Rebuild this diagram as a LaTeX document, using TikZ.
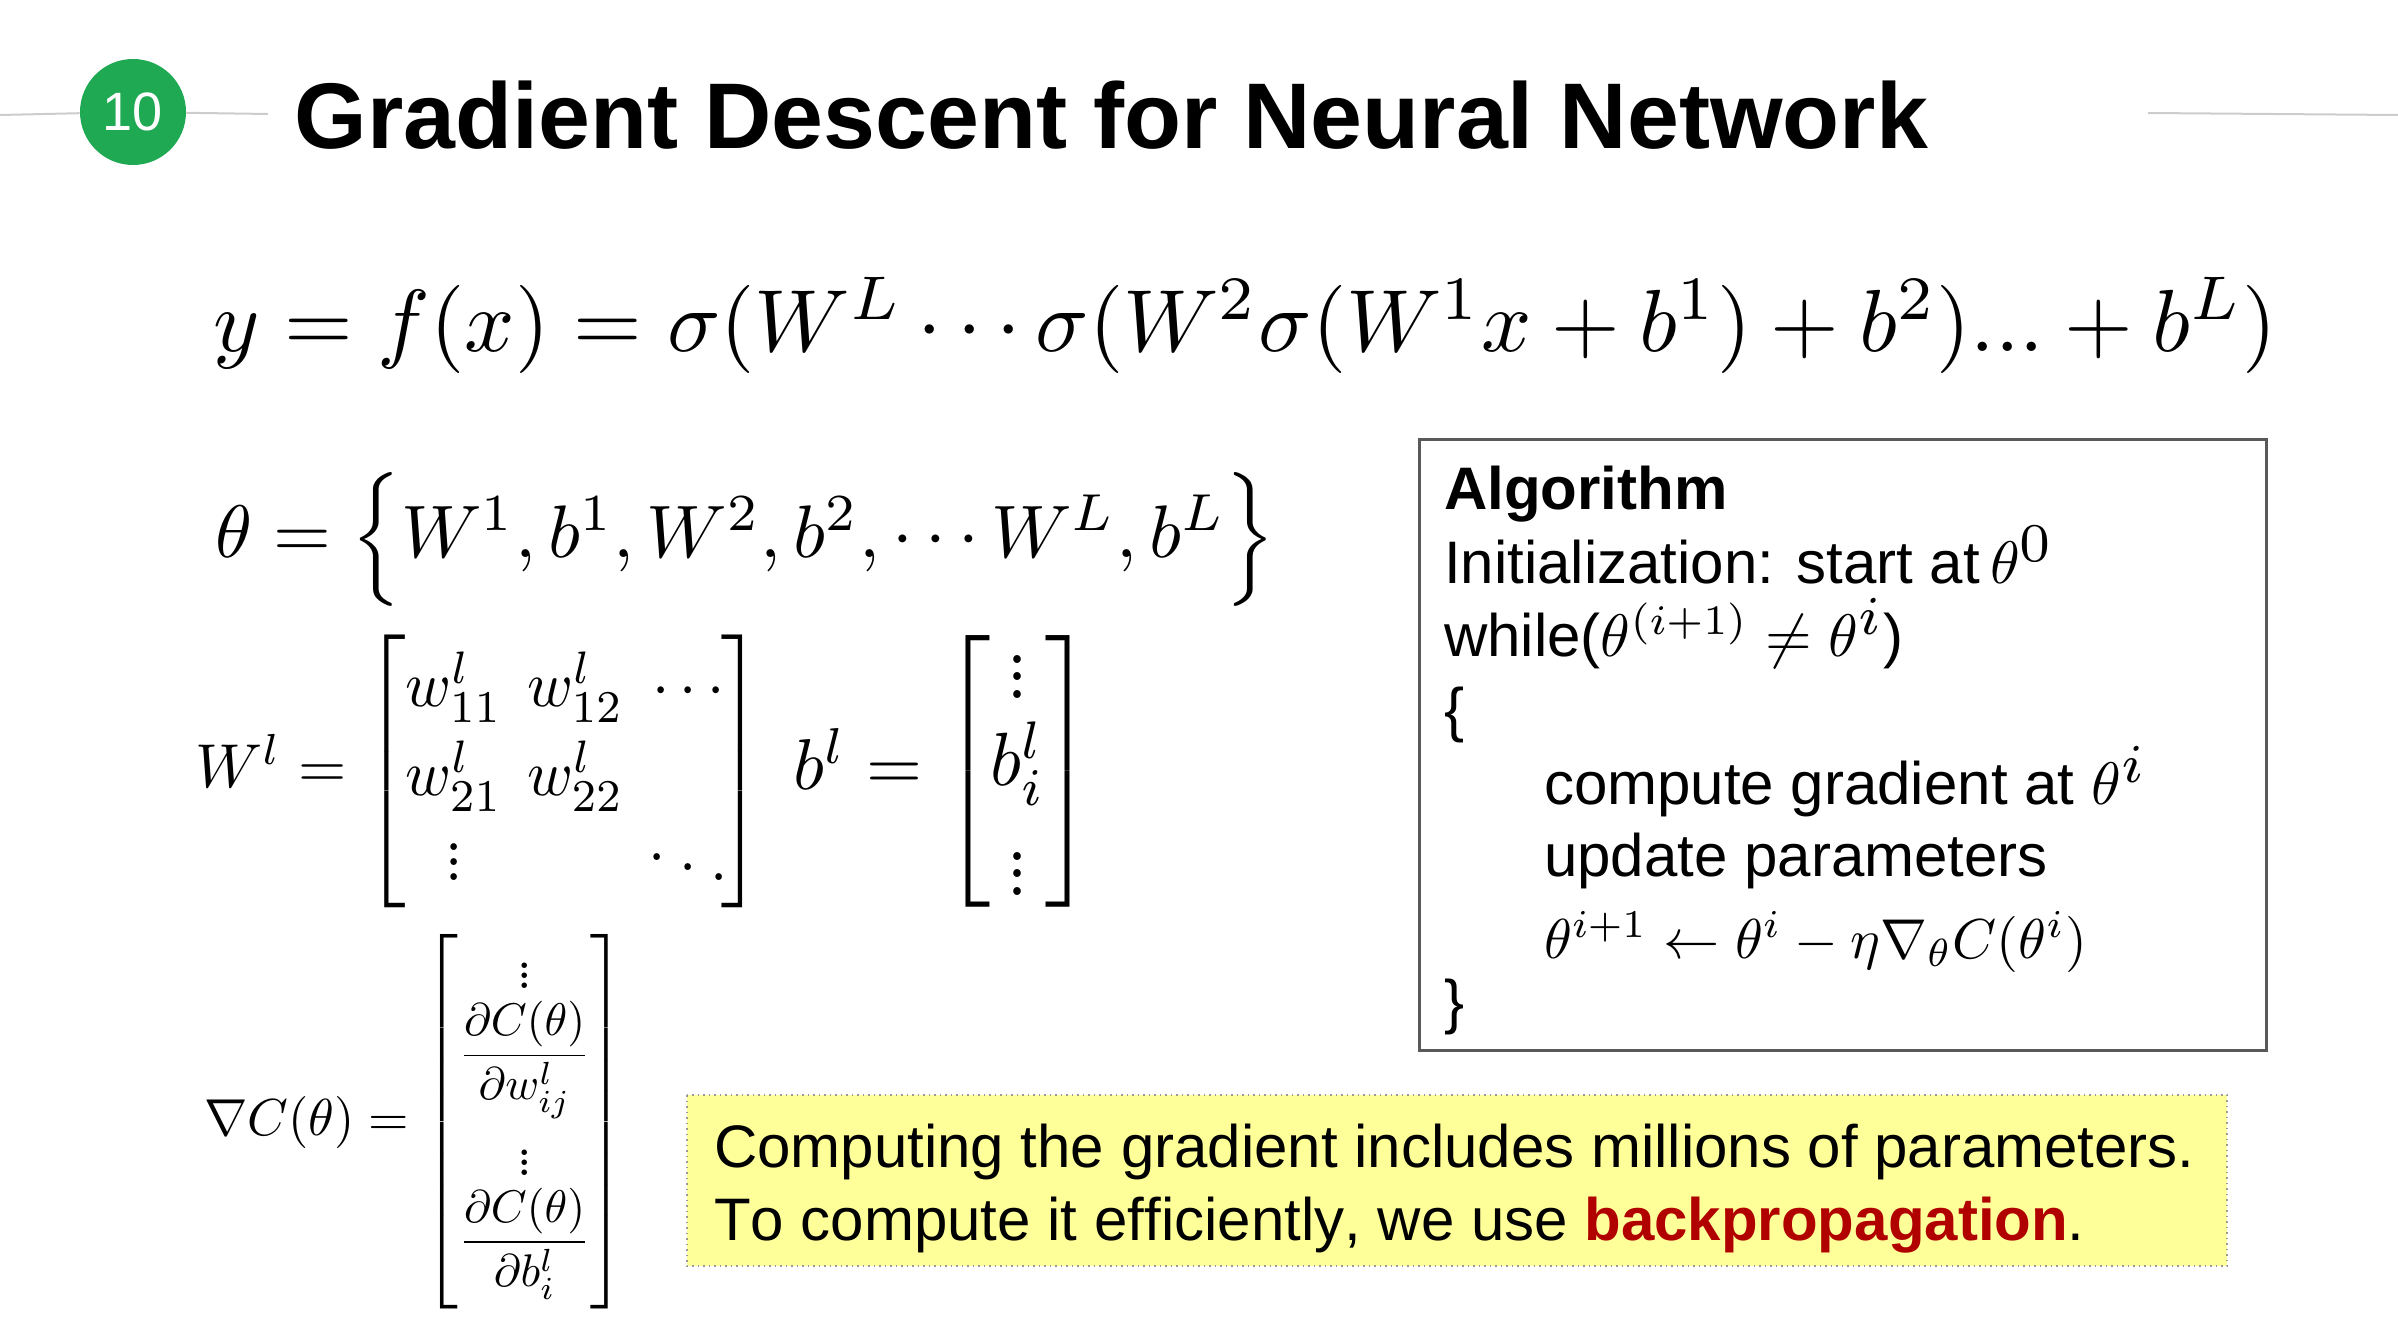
\documentclass[tikz,border=0pt]{standalone}
\usepackage{amsmath}
\usepackage[no-math]{fontspec}
\setmainfont{Liberation Sans}[Ligatures=NoCommon]
\usetikzlibrary{positioning}

\definecolor{badgegreen}{HTML}{1EA952}
\definecolor{rulegray}{HTML}{CCCCCC}
\definecolor{boxgray}{HTML}{595959}
\definecolor{noteyellow}{HTML}{FFFF99}
\definecolor{notered}{HTML}{B00000}

\newcommand{\smallvdots}[1][2.3pt]{\vbox{\baselineskip#1\lineskiplimit0pt\kern1pt\hbox{$.$}\hbox{$.$}\hbox{$.$}}}
\newcommand{\smallddots}{\mathinner{\raisebox{3pt}{$.$}\kern2.2pt\raisebox{1.5pt}{$.$}\kern2.2pt\raisebox{0pt}{$.$}}}
\newcommand{\bracketheight}[1]{\vcenter{\hbox{\rule{0pt}{#1}}}}
\newcommand{\bigsup}[1]{\scalebox{1.3}{$\scriptstyle #1$}}

\tikzset{
  eqn/.style={anchor=west,inner sep=0pt,scale=#1},
  algline/.style={anchor=base west,inner sep=0pt,scale=3.0},
  noteline/.style={anchor=base west,inner sep=0pt,scale=3.0},
  siderule/.style={draw=rulegray,line width=1pt}
}

\begin{document}
\begin{tikzpicture}[x=0.5pt,y=-0.5pt]
  \useasboundingbox (0,0) rectangle (2398,1332);

  \coordinate (ruleA) at (0,115);
  \coordinate (ruleB) at (268,114);
  \coordinate (ruleC) at (2148,113);
  \coordinate (ruleD) at (2398,115);

  \node[circle,fill=badgegreen,minimum size=53pt,inner sep=0pt,text=white,font=\fontsize{27}{32}\selectfont] (badge) at (133,112) {10};
  \draw[siderule] (ruleA) -- (badge);
  \draw[siderule] (badge) -- (ruleB);
  \draw[siderule] (ruleC) -- (ruleD);

  \node[anchor=base west,inner sep=0pt,scale=4.665,font=\bfseries] (title) at (293,149) {Gradient Descent for Neural Network};

  % equations
  \node[eqn=4.41] (forward) at (212,325) {$y=f(x)=\sigma(W^L\cdots\sigma(W^2\sigma(W^1x+b^1)+b^2)...+b^L)$};
  \node[eqn=3.72] (params) at (214,539) {$\theta=\Big\{W^1,b^1,W^2,b^2,\cdots W^L,b^L\Big\}$};
  \setlength{\arraycolsep}{2pt}
  \node[eqn=3.1] (weights) at (194,771) {$W^l=\scalebox{1}[1.048]{$\left[\bracketheight{40pt}\raisebox{-1pt}{$\begin{matrix}w^l_{11}&w^l_{12}&\cdots\kern-1pt\\[1.6pt] w^l_{21}&w^l_{22}&\\[1pt] \smallvdots&&\smallddots\kern-1pt\end{matrix}$}\right]$}$};
  \node[eqn=3.6] (biases) at (792,771) {$b^l=\scalebox{1}[1.048]{$\left[\bracketheight{36pt}\smash{\raisebox{-1pt}{$\begin{matrix}\smallvdots\\[-.5pt] b^l_i\\[2.5pt] \smallvdots\end{matrix}$}}\right]$}$};
  \node[eqn=2.6] (grad) at (203,1122) {$\nabla C(\theta)=\left[\bracketheight{76pt}\begin{matrix}\smallvdots[1.9pt]\\[-1pt] \scalebox{.88}{$\dfrac{\partial C(\theta)}{\partial w^l_{ij}}$}\\ \rule{0pt}{10.8pt}\smallvdots[1.9pt]\\[-1pt] \scalebox{.88}{$\dfrac{\partial C(\theta)}{\partial b^l_i}$}\end{matrix}\right]$};

  % algorithm box
  \draw[boxgray,line width=1.5pt] (1419,439) rectangle (2266,1050);
  \node[algline,font=\bfseries] (algA) at (1443,509) {Algorithm};
  \node[algline] (algB) at (1443,583) {Initialization: start at\kern-1.1pt\ $\theta^{\bigsup{0}}$};
  \node[algline] (algC) at (1443,656) {while($\theta^{(i+1)}\neq\theta^{\bigsup{i}}$)};
  \node[algline] (algD) at (1443,730) {\{};
  \node[algline] (algE) at (1543,804) {compute gradient at $\theta^{\bigsup{i}}$};
  \node[algline] (algF) at (1543,876) {update parameters};
  \node[eqn=2.81,anchor=base west] (algG) at (1543,958) {$\theta^{i+1}\leftarrow\theta^i-\eta\nabla_\theta C(\theta^i)$};
  \node[algline] (algH) at (1443,1022) {\}};

  % note
  \draw[draw=gray!80,dotted,fill=noteyellow,line width=0.75pt] (687,1095) rectangle (2227,1266);
  \node[noteline] (noteA) at (713,1167) {Computing the gradient includes millions of parameters.};
  \node[noteline,font=\addfontfeature{Kerning=Off}] (noteB) at (713,1240) {To compute it ef{}f{}iciently, we use \textbf{\textcolor{notered}{backpropagation}}.};
\end{tikzpicture}
\end{document}
